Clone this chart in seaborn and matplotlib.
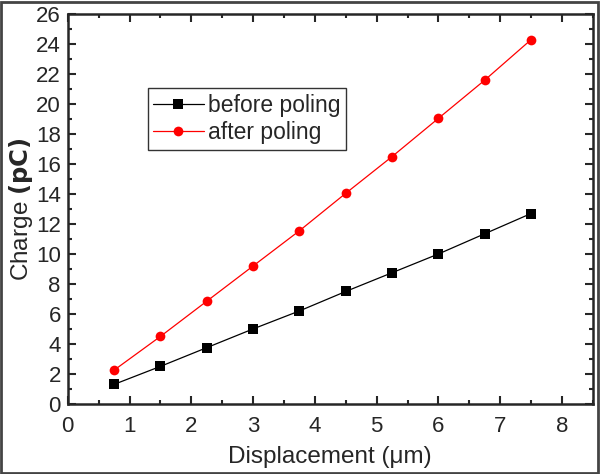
import numpy as np
import pandas as pd
import matplotlib
matplotlib.use('Agg')
import matplotlib.pyplot as plt
import seaborn as sns
from matplotlib.ticker import MultipleLocator
from matplotlib.patches import Rectangle

# data
displacement = [0.75, 1.5, 2.25, 3.0, 3.75, 4.5, 5.25, 6.0, 6.75, 7.5]
before_poling = [1.3, 2.5, 3.75, 5.0, 6.2, 7.5, 8.75, 10.0, 11.35, 12.7]
after_poling = [2.25, 4.5, 6.85, 9.2, 11.55, 14.05, 16.5, 19.05, 21.6, 24.3]

sns.set_style('ticks')
plt.rcParams['font.family'] = ['Liberation Sans', 'DejaVu Sans']

df = pd.DataFrame({
    'x': displacement * 2,
    'y': before_poling + after_poling,
    'series': ['before poling'] * len(displacement) + ['after poling'] * len(displacement),
})

fig = plt.figure(figsize=(6.0, 4.74), dpi=100)
ax = fig.add_axes([0.113, 0.148, 0.875, 0.822])

sns.lineplot(data=df, x='x', y='y', hue='series', style='series',
             palette={'before poling': 'black', 'after poling': 'red'},
             markers={'before poling': 's', 'after poling': 'o'},
             dashes=False, markersize=7, markeredgewidth=0, lw=0.9, ax=ax)

ax.set_xlim(0, 8.5)
ax.set_ylim(0, 26)
ax.xaxis.set_major_locator(MultipleLocator(1))
ax.xaxis.set_minor_locator(MultipleLocator(0.5))
ax.yaxis.set_major_locator(MultipleLocator(2))
ax.yaxis.set_minor_locator(MultipleLocator(1))
ax.tick_params(which='both', direction='in', top=True, right=True, width=1.5,
               labelsize=16, pad=5)
ax.tick_params(axis='x', pad=9)
ax.tick_params(which='major', length=6)
ax.tick_params(which='minor', length=3)
for s in ax.spines.values():
    s.set_linewidth(1.8)

ax.set_xlabel('Displacement (\u03bcm)', fontsize=17.5, labelpad=6)
ax.set_ylabel('Charge $\\mathbf{(pC)}$', fontsize=17.5, labelpad=1)

leg = ax.legend(loc='upper left', bbox_to_anchor=(0.13, 0.84), fontsize=16.5,
                frameon=True, fancybox=False, edgecolor='black',
                handlelength=2.2, handletextpad=0.2, borderpad=0.25,
                labelspacing=0.2)
leg.get_frame().set_linewidth(1.0)

# outer frame around the whole image
fig.patches.append(Rectangle((0.002, 0.003), 0.995, 0.993, transform=fig.transFigure,
                             fill=False, edgecolor='#444444', lw=2))

plt.savefig('out.png', dpi=100)
